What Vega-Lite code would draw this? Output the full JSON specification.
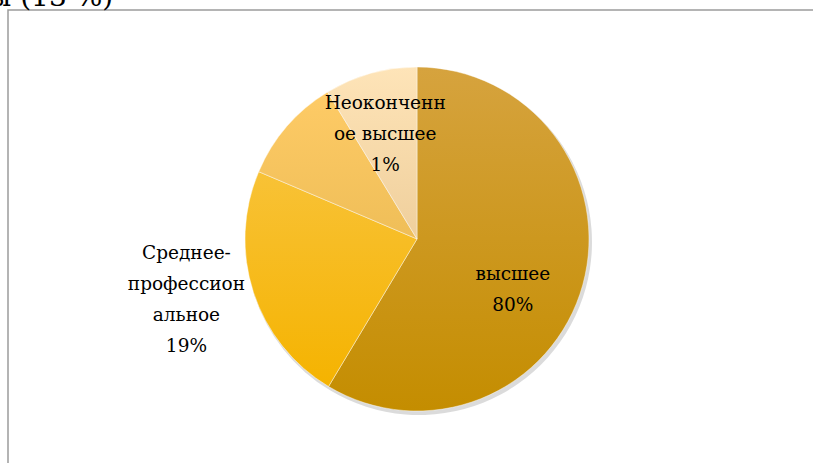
{
  "$schema": "https://vega.github.io/schema/vega-lite/v6.json",
  "width": 818,
  "height": 458,
  "autosize": {"type": "none"},
  "padding": {"left": 8, "top": 10, "right": 0, "bottom": 0},
  "background": "white",
  "title": {"text": "ы (13 %)", "anchor": "start", "frame": "group", "font": "DejaVu Serif", "fontSize": 28, "fontWeight": "normal", "color": "#000000", "baseline": "alphabetic", "offset": 0, "dx": -19, "dy": 35},
  "data": {"values": [
    {"cat": "высшее", "value": 58.6, "order": 1, "label": "высшее\n80%"},
    {"cat": "Среднее-профессиональное", "value": 22.8, "order": 2, "label": "Среднее-\nпрофессион\nальное\n19%"},
    {"cat": "другое", "value": 9.9, "order": 3, "label": ""},
    {"cat": "Неоконченное высшее", "value": 8.7, "order": 4, "label": "Неоконченн\nое высшее\n1%"}
  ]},
  "layer": [
    {
      "data": {"values": [{}]},
      "mark": {"type": "rect", "fill": null, "stroke": "#9c9c9c", "strokeWidth": 1.5},
      "encoding": {}
    },
    {
      "mark": {"type": "arc", "radius": 173, "xOffset": 2, "yOffset": 3, "fill": "#000000", "opacity": 0.14},
      "encoding": {
        "theta": {"field": "value", "type": "quantitative", "stack": true},
        "order": {"field": "order", "type": "quantitative"}
      }
    },
    {
      "mark": {"type": "arc", "radius": 172, "stroke": "#ffffff", "strokeOpacity": 0.55, "strokeWidth": 0.8},
      "encoding": {
        "theta": {"field": "value", "type": "quantitative", "stack": true},
        "order": {"field": "order", "type": "quantitative"},
        "fill": {
          "condition": [
            {"test": "datum.cat === 'высшее'", "value": {"gradient": "linear", "x1": 0, "y1": 0, "x2": 0, "y2": 1, "stops": [{"offset": 0, "color": "#D6A33E"}, {"offset": 1, "color": "#C48D00"}]}},
            {"test": "datum.cat === 'Среднее-профессиональное'", "value": {"gradient": "linear", "x1": 0, "y1": 0, "x2": 0, "y2": 1, "stops": [{"offset": 0, "color": "#F8C236"}, {"offset": 1, "color": "#F5B300"}]}},
            {"test": "datum.cat === 'другое'", "value": {"gradient": "linear", "x1": 0, "y1": 0, "x2": 0, "y2": 1, "stops": [{"offset": 0, "color": "#FECB66"}, {"offset": 1, "color": "#EFBE58"}]}}
          ],
          "value": {"gradient": "linear", "x1": 0, "y1": 0, "x2": 0, "y2": 1, "stops": [{"offset": 0, "color": "#FEE4B8"}, {"offset": 1, "color": "#EFCF9C"}]}
        }
      }
    },
    {
      "mark": {"type": "text", "radius": 102, "thetaOffset": 0.079, "font": "DejaVu Serif", "fontSize": 18.5, "lineHeight": 31, "lineBreak": "\n", "color": "#000000", "align": "center", "baseline": "middle"},
      "encoding": {
        "theta": {"field": "value", "type": "quantitative", "stack": true},
        "order": {"field": "order", "type": "quantitative"},
        "text": {"condition": {"test": "datum.cat === 'высшее'", "field": "label"}, "value": ""}
      }
    },
    {
      "mark": {"type": "text", "radius": 140, "thetaOffset": 0.044, "font": "DejaVu Serif", "fontSize": 18.5, "lineHeight": 31, "lineBreak": "\n", "color": "#000000", "align": "center", "baseline": "middle"},
      "encoding": {
        "theta": {"field": "value", "type": "quantitative", "stack": true},
        "order": {"field": "order", "type": "quantitative"},
        "text": {"condition": {"test": "datum.cat === 'Неоконченное высшее'", "field": "label"}, "value": ""}
      }
    },
    {
      "mark": {"type": "text", "radius": 231, "thetaOffset": 0.253, "font": "DejaVu Serif", "fontSize": 18.5, "lineHeight": 31, "lineBreak": "\n", "color": "#000000", "align": "center", "baseline": "middle"},
      "encoding": {
        "theta": {"field": "value", "type": "quantitative", "stack": true},
        "order": {"field": "order", "type": "quantitative"},
        "text": {"condition": {"test": "datum.cat === 'Среднее-профессиональное'", "field": "label"}, "value": ""}
      }
    }
  ]
}
